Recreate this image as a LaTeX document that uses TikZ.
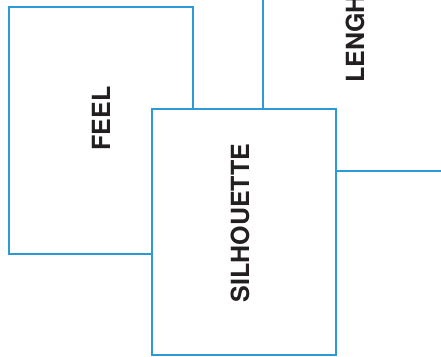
\documentclass[tikz,border=0pt]{standalone}
\usepackage{fontspec}
\setsansfont{TeX Gyre Heros}
\definecolor{boxline}{HTML}{2B9AD6}
\definecolor{boxtext}{HTML}{231F20}

\tikzset{
  panel/.style={fill=white, draw=boxline, line width=2pt},
  panellabel/.style={boxtext, rotate=90, inner sep=0pt,
    font=\sffamily\bfseries\fontsize{25}{25}\selectfont}
}

\begin{document}
\begin{tikzpicture}[x=1pt,y=-1pt]
    \path[use as bounding box] (0,0) rectangle (441,356);
    \clip (0,0) rectangle (441,356);

    % Back panel, only its lower left corner falls inside the frame.
    \filldraw[panel] (263,-30) rectangle (470,170.5);
    \node[panellabel, anchor=west] (lengh) at (355,83) {LENGH};

    % Left panel sits behind the front one.
    \filldraw[panel] (9,7) rectangle (193,254);
    \node[panellabel] (feel) at (101,118.5) {FEEL};

    % Front panel overlaps both others.
    \filldraw[panel] (152,109) rectangle (336,355);
    \node[panellabel] (silhouette) at (240,223) {SILHOUETTE};
  \end{tikzpicture}
\end{document}
